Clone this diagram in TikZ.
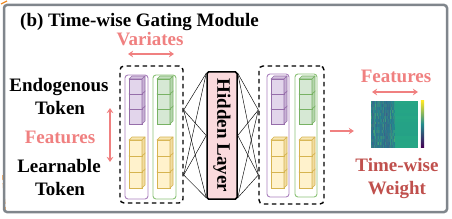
\documentclass[tikz,border=0pt]{standalone}
\usepackage{fontspec}
\setmainfont{Liberation Serif}
\usetikzlibrary{arrows.meta,calc}
\definecolor{pinkc}{RGB}{240,128,128}
\definecolor{darkredc}{RGB}{192,80,77}
\definecolor{bordergray}{RGB}{128,134,140}
\definecolor{orangec}{RGB}{240,140,40}
\definecolor{hidpink}{RGB}{250,218,221}
\definecolor{purfill}{RGB}{226,213,235}
\definecolor{purdraw}{RGB}{150,110,170}
\definecolor{purbox}{RGB}{170,130,190}
\definecolor{grnfill}{RGB}{214,232,212}
\definecolor{grndraw}{RGB}{120,178,100}
\definecolor{grnbox}{RGB}{140,195,120}
\definecolor{yelfill}{RGB}{255,242,204}
\definecolor{yeldraw}{RGB}{214,180,80}
\definecolor{vblue}{RGB}{58,90,140}
\definecolor{vteal}{RGB}{34,140,141}
\definecolor{vgreen}{RGB}{90,195,100}
\definecolor{vright}{RGB}{38,168,132}
\definecolor{vyellow}{RGB}{253,231,37}
\definecolor{vpurple}{RGB}{68,1,84}
\newcommand{\onecube}[5]{%
  \filldraw[fill=#4, draw=#5, line width=0.6pt] (#1,#2) rectangle ++(13,#3);
  \filldraw[fill=#4!80!#5, draw=#5, line width=0.6pt, line join=round]
    (#1,#2) -- ++(3,-3) -- ++(13,0) -- ++(-3,3) -- cycle;
  \filldraw[fill=#4!65!#5, draw=#5, line width=0.6pt, line join=round]
    (#1+13,#2) -- ++(3,-3) -- ++(0,#3) -- ++(-3,3) -- cycle;
}
\newcommand{\cubestack}[1]{%
  \onecube{#1}{172}{16}{yelfill}{yeldraw}
  \onecube{#1}{156}{16}{yelfill}{yeldraw}
  \onecube{#1}{140}{16}{yelfill}{yeldraw}
}
\newcommand{\purstack}[1]{%
  \onecube{#1}{109}{15}{purfill}{purdraw}
  \onecube{#1}{94}{15}{purfill}{purdraw}
  \onecube{#1}{79}{15}{purfill}{purdraw}
}
\newcommand{\grnstack}[1]{%
  \onecube{#1}{109}{15}{grnfill}{grndraw}
  \onecube{#1}{94}{15}{grnfill}{grndraw}
  \onecube{#1}{79}{15}{grnfill}{grndraw}
}
\begin{document}
\begin{tikzpicture}[x=1pt,y=-1pt,
  lbl/.style={font=\fontsize{19}{22}\selectfont\bfseries, inner sep=0pt, anchor=base},
  pinklbl/.style={lbl, text=pinkc},
  redlbl/.style={lbl, text=darkredc},
  dblarrow/.style={pinkc, line width=1.3pt, {Stealth[length=5pt,width=6.5pt]}-{Stealth[length=5pt,width=6.5pt]}},
  sglarrow/.style={pinkc, line width=1.3pt, -{Stealth[length=5pt,width=6.5pt]}},
  dashbox/.style={draw=black, dashed, dash pattern=on 4.5pt off 3.5pt, line width=1.4pt, rounded corners=4pt, inner sep=0pt},
  colbox/.style={draw, line width=0.9pt, rounded corners=3pt, fill=white, inner sep=0pt},
  fan/.style={black, line width=0.45pt},
]
\useasboundingbox (0,0) rectangle (452,219);
\fill[white] (0,0) rectangle (452,219);
% outer decorations
\draw[orangec, line width=1.3pt] (1,4) -- (7,1);
\draw[orangec, line width=1.5pt, dashed, dash pattern=on 5pt off 3pt] (3,175) -- (5,211);
\draw[bordergray, line width=2.5pt, rounded corners=3pt] (4,5) rectangle (447,212);

% title
\node[lbl, anchor=base west] (title) at (20,27) {(b) Time-wise Gating Module};

% left labels
\node[pinklbl] (variates) at (150,46) {Variates};
\coordinate (va1) at (128,54);
\coordinate (va2) at (174,54);
\draw[dblarrow] (va1) -- (va2);
\node[lbl] (endo) at (59,92) {Endogenous};
\node[lbl] (tok1) at (60,114) {Token};
\node[pinklbl] (featl) at (60,143) {Features};
\node[lbl] (learn) at (59,172) {Learnable};
\node[lbl] (tok2) at (60,195) {Token};
\coordinate (fa1) at (110,108);
\coordinate (fa2) at (110,162);
\draw[dblarrow] (fa1) -- (fa2);

% left dashed box
\node[dashbox, minimum width=63pt, minimum height=137pt] (lbox) at (151.5,134.5) {};
\node[colbox, draw=purbox, minimum width=23pt, minimum height=124pt] (lpur) at (136.5,137) {};
\node[colbox, draw=grnbox, minimum width=23pt, minimum height=124pt] (lgrn) at (164.5,137) {};
\purstack{129}
\cubestack{129}
\grnstack{157}
\cubestack{157}

% hidden layer
\node[draw=black, fill=hidpink, line width=1.5pt, rounded corners=1.5pt, minimum width=30pt, minimum height=127pt, inner sep=0pt] (hid) at (222,135.5) {};
\node[lbl, anchor=center, rotate=-90] (hidtxt) at (hid.center) {Hidden Layer};

% right dashed box
\node[dashbox, minimum width=65pt, minimum height=138pt] (rbox) at (291.5,135) {};
\node[colbox, draw=purbox, minimum width=22pt, minimum height=123pt] (rpur) at (278,135.5) {};
\node[colbox, draw=grnbox, minimum width=22pt, minimum height=123pt] (rgrn) at (306,135.5) {};
\purstack{271}
\cubestack{271}
\grnstack{299}
\cubestack{299}

% fan connections
\coordinate (la) at ([yshift=24.5pt]lbox.east);
\coordinate (lb) at ([yshift=-40.5pt]lbox.east);
\coordinate (ra) at ([yshift=25pt]rbox.west);
\coordinate (rb) at ([yshift=-40pt]rbox.west);
\coordinate (h1) at ([yshift=-2pt]hid.north west);
\coordinate (h2) at (hid.west);
\coordinate (h3) at ([yshift=2pt]hid.south west);
\coordinate (g1) at ([yshift=-2pt]hid.north east);
\coordinate (g2) at (hid.east);
\coordinate (g3) at ([yshift=2pt]hid.south east);
\foreach \s in {la,lb}{\foreach \t in {h1,h2,h3}{\draw[fan] (\s) -- (\t);}}
\foreach \s in {ra,rb}{\foreach \t in {g1,g2,g3}{\draw[fan] (\s) -- (\t);}}

% heatmap
\node[inner sep=0pt, minimum width=47pt, minimum height=47pt] (heat) at (394.5,124.5) {};
\pgfmathsetseed{11}
\foreach \i in {0,...,23}{
  \pgfmathsetmacro\cb{rnd}
  \foreach \j in {0,...,15}{
    \pgfmathtruncatemacro\a{100*min(1,max(0,0.35+0.6*\cb+0.4*(rnd-0.5)))}
    \pgfmathtruncatemacro\b{ifthenelse(rnd>0.85,55,ifthenelse(rnd>0.55,25,0))}
    \fill[vgreen!\b!vteal!\a!vblue] (371+\i,101+\j*2.9375) rectangle ++(1.1,3);
  }
}
\foreach \j in {0,...,15}{
  \pgfmathtruncatemacro\a{75+int(20*rnd)}
  \fill[vright!\a!vteal] (395,101+\j*2.9375) rectangle ++(23,3);
}
\node[inner sep=0pt, minimum width=3pt, minimum height=46pt] (cbar) at (422.5,124) {};
\shade[top color=vyellow, bottom color=vpurple, middle color=vteal] (cbar.north west) rectangle (cbar.south east);

% right labels
\node[pinklbl] (featr) at (396,83) {Features};
\coordinate (fr1) at (372,92);
\coordinate (fr2) at (418,92);
\draw[dblarrow] (fr1) -- (fr2);
\draw[sglarrow] ([xshift=5pt,yshift=4pt]rbox.east) -- ([xshift=-17pt,yshift=-6.5pt]heat.west);
\node[redlbl] (tw) at (397,171) {Time-wise};
\node[redlbl] (wt) at (397,194) {Weight};
\end{tikzpicture}
\end{document}
